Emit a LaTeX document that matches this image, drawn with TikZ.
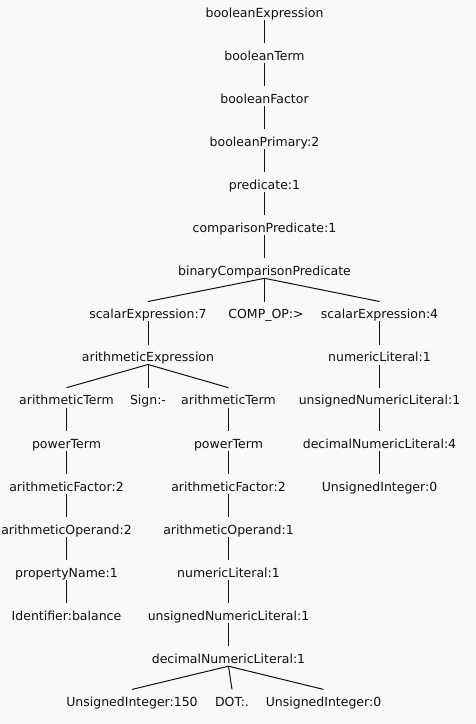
\documentclass[tikz,border=0pt]{standalone}
\usepackage{fontspec}
\setmainfont{DejaVu Sans}
\definecolor{bg}{RGB}{247,248,250}
\definecolor{ink}{RGB}{16,16,16}
\tikzset{
  tn/.style={anchor=base, inner sep=0pt, text height=17pt, text depth=2.5pt,
    font=\fontsize{12.5}{15}\selectfont, text=ink},
  ln/.style={line width=1pt, draw=ink}
}

\begin{document}
\begin{tikzpicture}[x=1pt, y=-1pt]
  \fill[bg] (0,0) rectangle (476,724);
  \useasboundingbox (0,0) rectangle (476,724);
  % spine
  \node[tn] (a) at (264.5, 17) {booleanExpression};
  \node[tn] (b) at (264.5, 60.1) {booleanTerm};
  \node[tn] (c) at (264.5, 103.2) {booleanFactor};
  \node[tn] (d) at (264.5, 146.3) {booleanPrimary:2};
  \node[tn] (e) at (264.5, 189.4) {predicate:1};
  \node[tn] (f) at (264.5, 232.5) {comparisonPredicate:1};
  \node[tn] (g) at (264.5, 275.6) {binaryComparisonPredicate};
  % operands
  \node[tn] (l1) at (148, 318.7) {scalarExpression:7};
  \node[tn] (op) at (266, 318.7) {COMP\_OP:>};
  \node[tn] (r1) at (379.5, 318.7) {scalarExpression:4};
  % left operand
  \node[tn] (l2) at (148, 361.8) {arithmeticExpression};
  \node[tn] (p1) at (66.5, 404.9) {arithmeticTerm};
  \node[tn] (sg) at (148, 404.9) {Sign:-};
  \node[tn] (q1) at (228.5, 404.9) {arithmeticTerm};
  \node[tn] (p2) at (66.5, 448) {powerTerm};
  \node[tn] (p3) at (66.5, 491.1) {arithmeticFactor:2};
  \node[tn] (p4) at (66.5, 534.2) {arithmeticOperand:2};
  \node[tn] (p5) at (66.5, 577.3) {propertyName:1};
  \node[tn] (p6) at (66.5, 620.4) {Identifier:balance};
  \node[tn] (q2) at (228.5, 448) {powerTerm};
  \node[tn] (q3) at (228.5, 491.1) {arithmeticFactor:2};
  \node[tn] (q4) at (228.5, 534.2) {arithmeticOperand:1};
  \node[tn] (q5) at (228.5, 577.3) {numericLiteral:1};
  \node[tn] (q6) at (228.5, 620.4) {unsignedNumericLiteral:1};
  \node[tn] (q7) at (228.5, 663.5) {decimalNumericLiteral:1};
  \node[tn] (u1) at (132, 706.6) {UnsignedInteger:150};
  \node[tn] (u2) at (232, 706.6) {DOT:.};
  \node[tn] (u3) at (323.5, 706.6) {UnsignedInteger:0};
  % right operand
  \node[tn] (r2) at (379.5, 361.8) {numericLiteral:1};
  \node[tn] (r3) at (379.5, 404.9) {unsignedNumericLiteral:1};
  \node[tn] (r4) at (379.5, 448) {decimalNumericLiteral:4};
  \node[tn] (r5) at (379.5, 491.1) {UnsignedInteger:0};
  % edges
  \draw[ln] (a.south) -- (b.north);
  \draw[ln] (b.south) -- (c.north);
  \draw[ln] (c.south) -- (d.north);
  \draw[ln] (d.south) -- (e.north);
  \draw[ln] (e.south) -- (f.north);
  \draw[ln] (f.south) -- (g.north);
  \draw[ln] (g.south) -- (l1.north);
  \draw[ln] (g.south) -- (g.south |- op.north);
  \draw[ln] (g.south) -- (r1.north);
  \draw[ln] (l1.south) -- (l2.north);
  \draw[ln] (l2.south) -- (p1.north);
  \draw[ln] (l2.south) -- (sg.north);
  \draw[ln] (l2.south) -- (q1.north);
  \draw[ln] (p1.south) -- (p2.north);
  \draw[ln] (p2.south) -- (p3.north);
  \draw[ln] (p3.south) -- (p4.north);
  \draw[ln] (p4.south) -- (p5.north);
  \draw[ln] (p5.south) -- (p6.north);
  \draw[ln] (q1.south) -- (q2.north);
  \draw[ln] (q2.south) -- (q3.north);
  \draw[ln] (q3.south) -- (q4.north);
  \draw[ln] (q4.south) -- (q5.north);
  \draw[ln] (q5.south) -- (q6.north);
  \draw[ln] (q6.south) -- (q7.north);
  \draw[ln] (q7.south) -- (u1.north);
  \draw[ln] (q7.south) -- (u2.north);
  \draw[ln] (q7.south) -- (u3.north);
  \draw[ln] (r1.south) -- (r2.north);
  \draw[ln] (r2.south) -- (r3.north);
  \draw[ln] (r3.south) -- (r4.north);
  \draw[ln] (r4.south) -- (r5.north);
\end{tikzpicture}
\end{document}
